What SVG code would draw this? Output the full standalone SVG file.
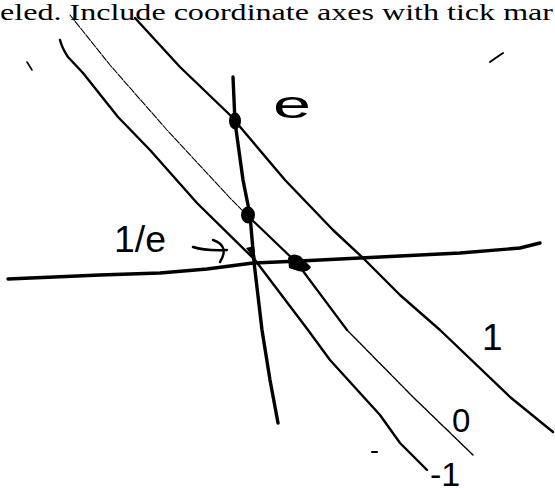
<svg xmlns="http://www.w3.org/2000/svg" width="555" height="493" viewBox="0 0 555 493">
<style>
.ink{fill:none;stroke:#000;stroke-linecap:round;stroke-linejoin:round}
.hand{font-family:"Liberation Sans",Arial,sans-serif;fill:#000}
.dot{fill:#000}
</style>
<rect width="555" height="493" fill="#fff"/>
<text x="0" y="20" font-family="Liberation Serif,'Times New Roman',serif" font-size="23" textLength="553" lengthAdjust="spacingAndGlyphs" fill="#000">eled.  Include coordinate axes with tick mar</text>
<g id="connectors">
<path id="line-pos1" class="ink" stroke-width="2.4" d="M135,18 L180,67 L230,115 L285,180 L333,230 L363,258 L400,295 L440,330 L510,397 L553,432"/>
<path id="line-neg1" class="ink" stroke-width="2.4" d="M60,40 Q62,48 68,57 L83,73 L118,117 L150,150 L197,203 L255,260 L308,330 L330,360 L380,415 L400,443 L427,470"/>
<path id="line-zero-top" class="ink" stroke-width="1.1" stroke-dasharray="7 1.5" d="M70,15 L110,65 L167,130 L230,198 L248,216"/>
<path id="line-zero-mid" class="ink" stroke-width="2.2" d="M248,216 L297,263 L347,330"/>
<path id="line-zero-bot" class="ink" stroke-width="1.4" stroke-dasharray="8 1.2" d="M347,330 L413,397 L473,455"/>
<path id="y-axis" class="ink" stroke-width="3.4" d="M233,77 L235,122 L243,180 L250,215 L254,262 L262,330 L270,380 L278,423"/>
<path id="x-axis" class="ink" stroke-width="3.4" d="M8,279 L100,275 L160,273 L207,269 L253,263 L300,261 L380,257 L460,253 L520,248 L540,243"/>
<path id="arrow" class="ink" stroke-width="2.4" d="M193,247 Q205,251 227,250 M213,240 Q230,246 220,262"/>
</g>
<g id="points">
<ellipse id="pt-e" class="dot" cx="235" cy="121" rx="6" ry="8.5"/>
<ellipse id="pt-one" class="dot" cx="248" cy="215" rx="7" ry="8.5"/>
<path id="pt-inv-e" class="dot" d="M246,248 L254,246 L256,262 Z"/>
<path id="pt-blob" class="dot" d="M288,258 Q292,252 300,256 L311,267 Q308,273 298,271 L289,268 Z"/>
</g>
<g id="labels">
<text class="hand" x="273" y="118" font-size="38" textLength="38" lengthAdjust="spacingAndGlyphs">e</text>
<text class="hand" x="114" y="252" font-size="36" textLength="52" lengthAdjust="spacingAndGlyphs">1/e</text>
<text class="hand" x="482" y="350" font-size="37">1</text>
<text class="hand" x="452" y="432" font-size="33">0</text>
<text class="hand" x="430" y="486" font-size="34">-1</text>
</g>
<g id="stray-marks">
<path class="ink" stroke-width="1.6" d="M27,62 L32,70"/>
<path class="ink" stroke-width="2" d="M490,62 Q497,57 503,53"/>
<path class="ink" stroke-width="2" d="M372,452 L377,452"/>
</g>
</svg>
